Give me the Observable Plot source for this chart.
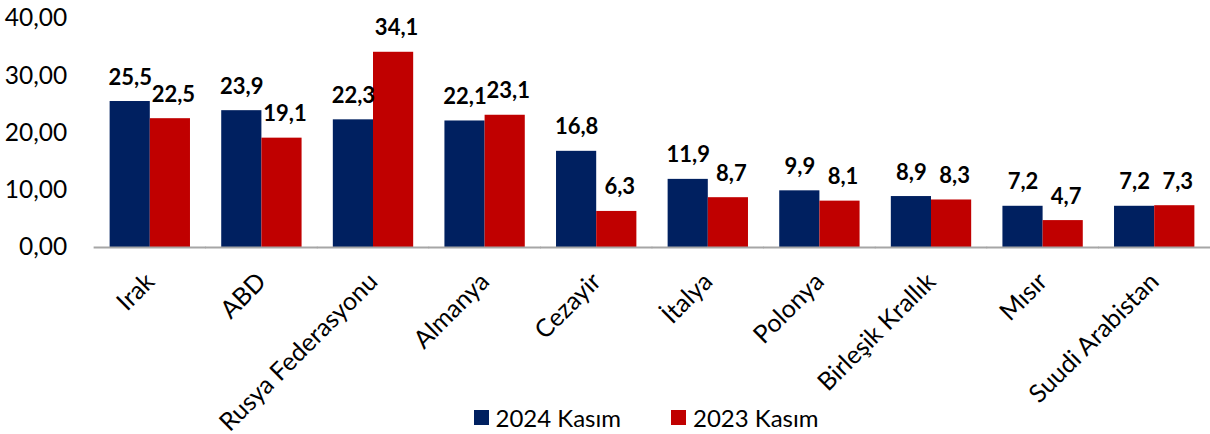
<!DOCTYPE html>
<html>
<head>
<meta charset="utf-8">
<script src="https://cdn.jsdelivr.net/npm/d3@7"></script>
<script src="https://cdn.jsdelivr.net/npm/@observablehq/plot@0.6"></script>
<style>
  html, body { margin: 0; padding: 0; background: #fff; }
  #wrap { position: relative; width: 1210px; height: 434px; font-family: Lato, "Open Sans", sans-serif; }
  #legend { position: absolute; left: 0; top: 400px; width: 1210px; height: 34px; display: flex; justify-content: center; align-items: center; gap: 50px; font-size: 24px; color: #000; padding-left: 82px; box-sizing: border-box; }
  #legend .item { display: flex; align-items: center; gap: 7px; }
  #legend .sw { width: 15px; height: 15px; display: inline-block; }
  #wrap svg g[aria-label="y-axis tick label"] { font-size: 24.5px !important; }
  #wrap svg g[aria-label="fx-axis tick label"] { font-size: 25px !important; }
</style>
</head>
<body>
<div id="wrap"></div>
<script>
const categories = ["Irak", "ABD", "Rusya Federasyonu", "Almanya", "Cezayir", "İtalya", "Polonya", "Birleşik Krallık", "Mısır", "Suudi Arabistan"];
const series = ["2024 Kasım", "2023 Kasım"];
const values2024 = [25.5, 23.9, 22.3, 22.1, 16.8, 11.9, 9.9, 8.9, 7.2, 7.2];
const values2023 = [22.5, 19.1, 34.1, 23.1, 6.3, 8.7, 8.1, 8.3, 4.7, 7.3];
const yTicks = [0, 10, 20, 30, 40];
const colors = ["#002060", "#C00000"];

const data = [];
categories.forEach((c, i) => {
  data.push({cat: c, series: series[0], value: values2024[i]});
  data.push({cat: c, series: series[1], value: values2023[i]});
});

const fmt1 = d => d.toFixed(1).replace(".", ",");
const fmt2 = d => d.toFixed(2).replace(".", ",");

const chart = Plot.plot({
  width: 1210,
  height: 434,
  marginLeft: 94,
  marginRight: 0,
  marginTop: 18,
  marginBottom: 187,
  style: {fontFamily: "Lato, 'Open Sans', sans-serif", fontSize: "22px", color: "#000", background: "#fff", overflow: "visible"},
  fx: {domain: categories, paddingInner: 0.28, paddingOuter: 0.14, round: false, label: null},
  x: {domain: series, padding: 0, round: false, axis: null},
  y: {domain: [0, 40], label: null},
  color: {domain: series, range: colors},
  marks: [
    Plot.axisY({ticks: yTicks, tickFormat: fmt2, tickSize: 0, tickPadding: 43, fontSize: 24.5, label: null, fill: "#000"}),
    Plot.axisFx({anchor: "bottom", tickSize: 0, tickPadding: 30, tickRotate: -45, fontSize: 25, label: null, fill: "#000"}),
    Plot.barY(data, {fx: "cat", x: "series", y: "value", fill: "series"}),
    Plot.text(data.filter(d => d.series === series[0]), {fx: "cat", x: "series", y: "value", text: d => fmt1(d.value), dy: -17, lineAnchor: "bottom", fontWeight: "bold", fontSize: 22, fill: "#000"}),
    Plot.text(data.filter(d => d.series === series[1]), {fx: "cat", x: "series", y: "value", text: d => fmt1(d.value), dx: 3, dy: -17, lineAnchor: "bottom", fontWeight: "bold", fontSize: 22, fill: "#000"}),
    Plot.ruleY([0], {stroke: "#a6a6a6", strokeWidth: 2, insetLeft: -16, insetRight: -16})
  ]
});
const wrap = document.getElementById("wrap");
wrap.appendChild(chart);

const legend = document.createElement("div");
legend.id = "legend";
series.forEach((s, i) => {
  const item = document.createElement("div");
  item.className = "item";
  const sw = document.createElement("span");
  sw.className = "sw";
  sw.style.background = colors[i];
  const t = document.createElement("span");
  t.textContent = s;
  item.appendChild(sw);
  item.appendChild(t);
  legend.appendChild(item);
});
wrap.appendChild(legend);
</script>
</body>
</html>
